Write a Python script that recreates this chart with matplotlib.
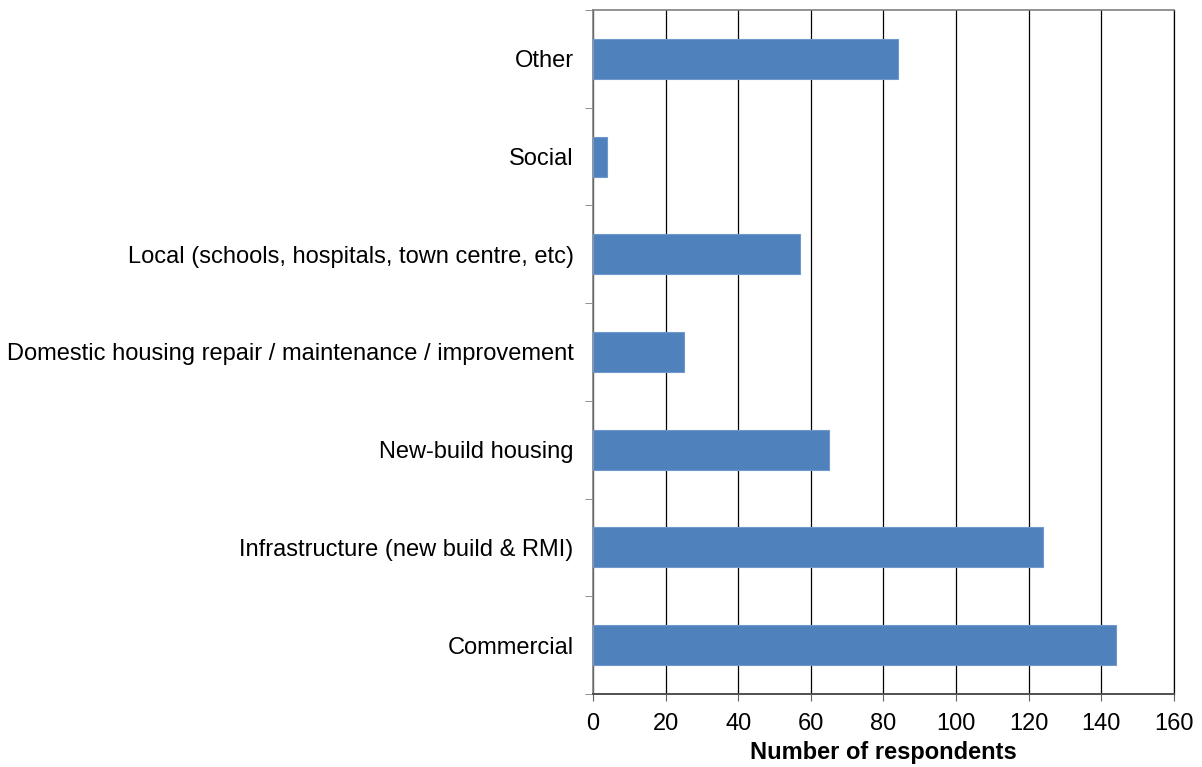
import numpy as np
import matplotlib.pyplot as plt

plt.rcParams['font.family'] = ['Liberation Sans', 'DejaVu Sans']

categories = ['Commercial', 'Infrastructure (new build & RMI)', 'New-build housing',
              'Domestic housing repair / maintenance / improvement',
              'Local (schools, hospitals, town centre, etc)', 'Social', 'Other']
respondents = [144, 124, 65, 25, 57, 4, 84]
xticks = [0, 20, 40, 60, 80, 100, 120, 140, 160]

fig = plt.figure(figsize=(12.02, 7.67), dpi=100)
ax = fig.add_axes([0.4933, 0.0952, 0.4834, 0.8918])

y = np.arange(len(categories))
ax.barh(y, respondents, height=0.41, color='#4F81BD', edgecolor='#6F98CC', linewidth=0.8, zorder=3)

ax.set_xlim(0, 160)
ax.set_ylim(-0.5, len(categories) - 0.5)
ax.set_xticks(xticks)
ax.set_xticklabels([str(t) for t in xticks], fontsize=17)
ax.set_yticks(y)
ax.set_yticklabels(categories, fontsize=17)
ax.tick_params(axis='y', length=0, pad=14)
ax.tick_params(axis='x', length=5, color='#606060', pad=9)

# category boundary ticks on the left axis
ax.set_yticks(np.arange(-0.5, len(categories)), minor=True)
ax.tick_params(axis='y', which='minor', length=6, color='#808080')

ax.xaxis.grid(True, color='#000000', linewidth=0.9, zorder=0)
ax.set_axisbelow(True)
for side in ['left', 'top']:
    ax.spines[side].set_color('#808080')
    ax.spines[side].set_linewidth(1.2)
ax.spines['bottom'].set_color('#505050')
ax.spines['bottom'].set_linewidth(1.4)
ax.spines['right'].set_color('#000000')
ax.spines['right'].set_linewidth(0.9)

ax.set_xlabel('Number of respondents', fontsize=17, fontweight='bold', labelpad=4)

fig.savefig('out.png', dpi=100)
